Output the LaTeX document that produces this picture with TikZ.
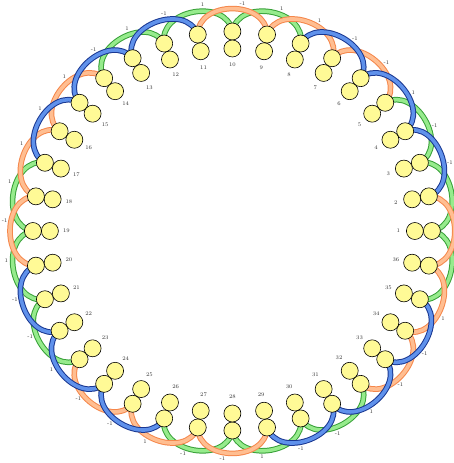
\documentclass[tikz,border=0pt]{standalone}
\usetikzlibrary{backgrounds}

\definecolor{beadyellow}{RGB}{255,250,150}
\definecolor{greenedge}{RGB}{55,160,55}
\definecolor{greenfill}{RGB}{150,235,140}
\definecolor{orangeedge}{RGB}{245,135,75}
\definecolor{orangefill}{RGB}{255,190,145}
\definecolor{blueedge}{RGB}{25,55,145}
\definecolor{bluefill}{RGB}{95,145,235}

\tikzset{
  bead/.style={circle,draw=black,fill=beadyellow,line width=0.6pt,minimum size=17pt,inner sep=0pt},
  num/.style={font=\fontsize{5.5}{6}\selectfont,text=black!80,inner sep=0pt},
  greenband/.style={draw=greenedge,double=greenfill,double distance=3.6pt,line width=1pt},
  orangeband/.style={draw=orangeedge,double=orangefill,double distance=3.6pt,line width=1pt},
  blueband/.style={draw=blueedge,double=bluefill,double distance=3.6pt,line width=1pt}
}

\begin{document}
\begin{tikzpicture}[x=1pt,y=1pt]
  \useasboundingbox (-232.4,-232) rectangle (221.6,231);

  % the 36 pairs of beads
  \foreach \k in {1,...,36}{
    \pgfmathsetmacro\ang{(\k-1)*10}
    \node[bead] (o\k) at (\ang:199.5) {};
    \node[bead] (i\k) at (\ang:182.5) {};
    \node[num] (n\k) at (\ang:166) {\k};
  }

  % couplings between outer beads two apart
  \begin{scope}[on background layer]
    \foreach \a/\band in {1/greenband,3/greenband,8/greenband,10/greenband,12/greenband,17/greenband,
        19/greenband,21/greenband,26/greenband,28/greenband,30/greenband,35/greenband,
        5/orangeband,7/orangeband,9/orangeband,14/orangeband,16/orangeband,18/orangeband,
        23/orangeband,25/orangeband,27/orangeband,32/orangeband,34/orangeband,36/orangeband,
        2/blueband,4/blueband,6/blueband,11/blueband,13/blueband,15/blueband,
        20/blueband,22/blueband,24/blueband,29/blueband,31/blueband,33/blueband}{
      \pgfmathtruncatemacro\b{mod(\a+1,36)+1}
      \pgfmathsetmacro\m{\a*10}
      \draw[\band] (o\a.center) to[out=\m,in=\m,looseness=1.28] (o\b.center);
    }
  \end{scope}

  % coupling values
  \foreach \a/\w in {2/-1,3/-1,4/1,5/-1,6/-1,7/1,8/1,9/-1,10/1,11/-1,12/1,13/-1,
      14/1,15/1,16/1,17/1,18/-1,19/1,20/-1,21/-1,22/1,23/-1,24/-1,25/1,
      26/-1,27/-1,28/1,29/-1,30/-1,31/1,32/-1,33/-1,34/1}{
    \node[num] (w\a) at (\a*10-2.5:228) {\w};
  }
\end{tikzpicture}
\end{document}
